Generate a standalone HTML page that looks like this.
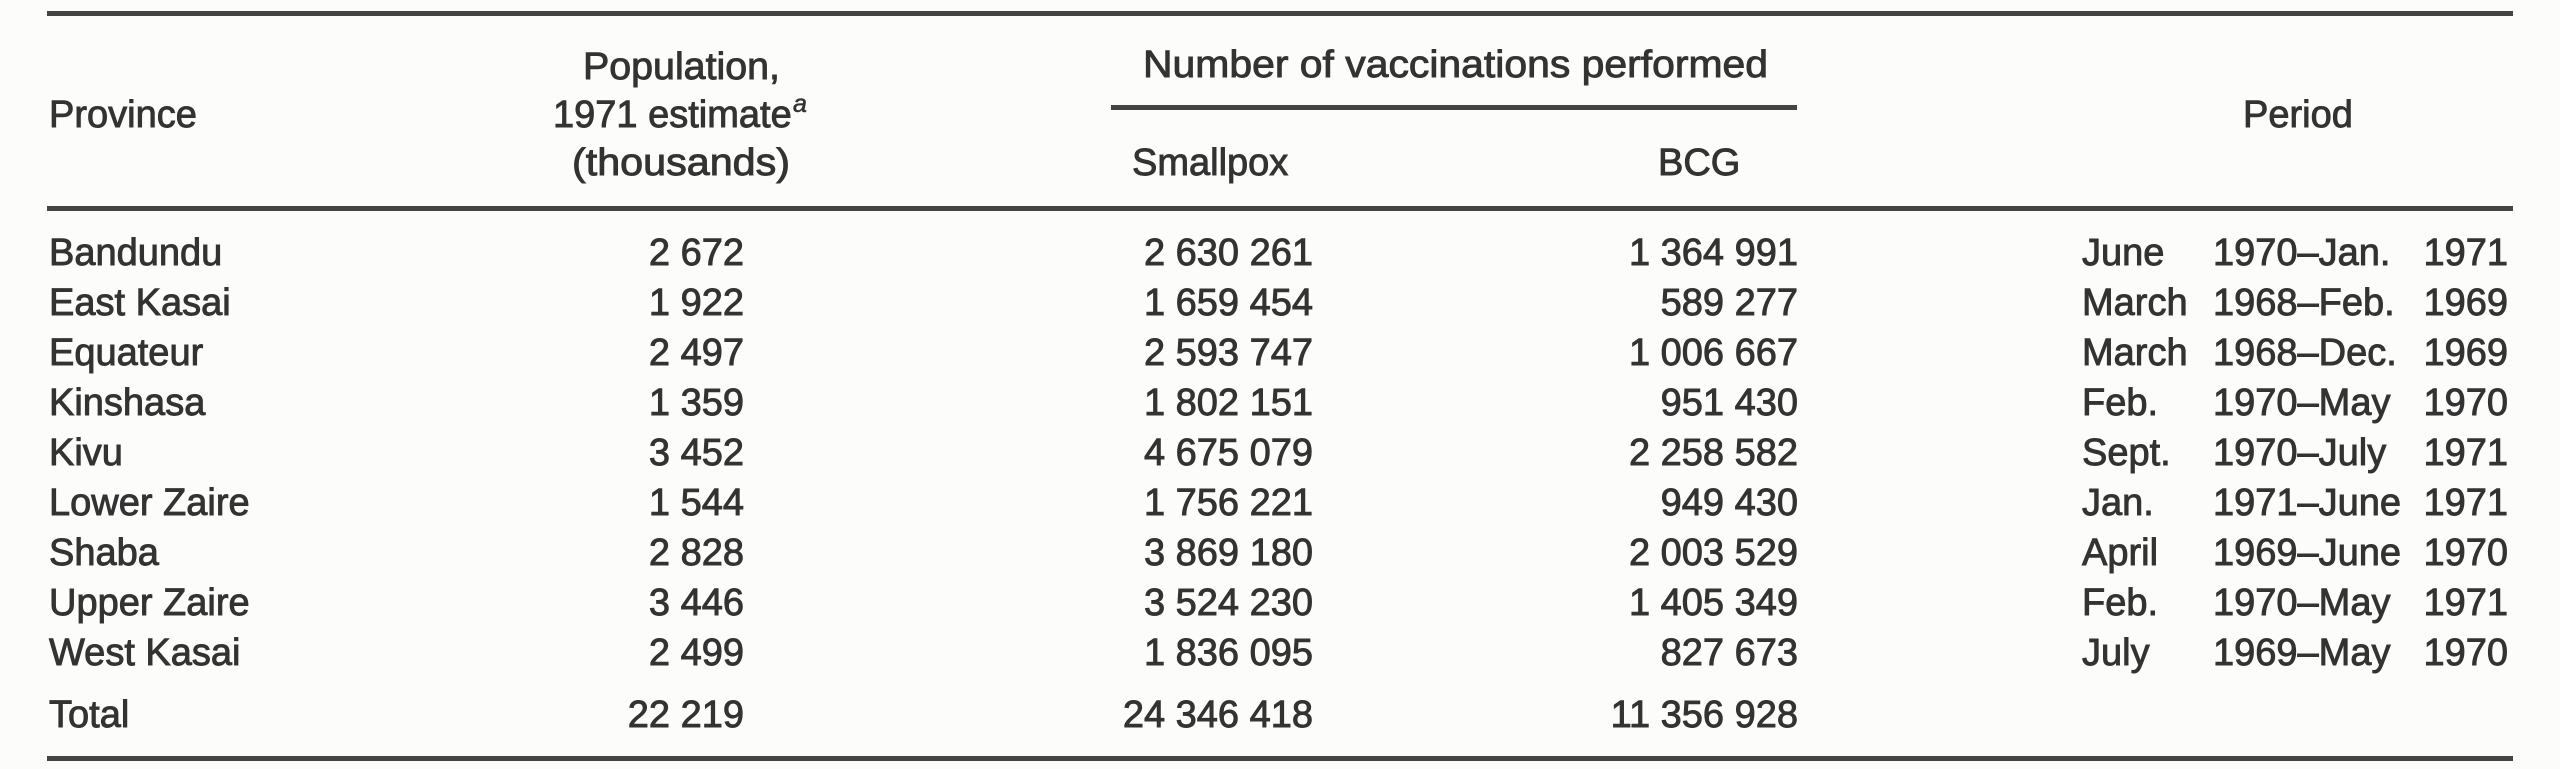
<!DOCTYPE html>
<html>
<head>
<meta charset="utf-8">
<style>
  html, body { margin: 0; padding: 0; background: #fcfcfa; }
  svg { display: block; }
  text { font-family: "Liberation Sans", Arial, sans-serif; font-size: 38px; fill: #333; stroke: #333; stroke-width: 0.9px; }
</style>
</head>
<body>
<svg width="2560" height="769" viewBox="0 0 2560 769" xmlns="http://www.w3.org/2000/svg">
  <rect x="0" y="0" width="2560" height="769" fill="#fcfcfa"/>
  <!-- rules -->
  <rect x="47" y="11" width="2466" height="5" fill="#444"/>
  <rect x="1111" y="105" width="686" height="5" fill="#444"/>
  <rect x="47" y="206" width="2466" height="5" fill="#444"/>
  <rect x="47" y="756" width="2466" height="5" fill="#444"/>

  <!-- headers -->
  <text x="49" y="127">Province</text>
  <text x="583" y="79" textLength="197" lengthAdjust="spacingAndGlyphs">Population,</text>
  <text x="553" y="127">1971 estimate</text>
  <text x="793" y="112" style="font-size:25px;font-style:italic;stroke-width:0.6px;">a</text>
  <text x="572" y="175" textLength="218" lengthAdjust="spacingAndGlyphs">(thousands)</text>
  <text x="1143" y="77" textLength="625" lengthAdjust="spacingAndGlyphs">Number of vaccinations performed</text>
  <text x="1132" y="175">Smallpox</text>
  <text x="1658" y="175">BCG</text>
  <text x="2243" y="127">Period</text>

  <!-- Province column -->
  <g>
    <text x="49" y="265">Bandundu</text>
    <text x="49" y="315">East Kasai</text>
    <text x="49" y="365">Equateur</text>
    <text x="49" y="415">Kinshasa</text>
    <text x="49" y="465">Kivu</text>
    <text x="49" y="515">Lower Zaire</text>
    <text x="49" y="565">Shaba</text>
    <text x="49" y="615">Upper Zaire</text>
    <text x="49" y="665">West Kasai</text>
    <text x="49" y="727">Total</text>
  </g>

  <!-- Population column -->
  <g text-anchor="end">
    <text x="744" y="265">2 672</text>
    <text x="744" y="315">1 922</text>
    <text x="744" y="365">2 497</text>
    <text x="744" y="415">1 359</text>
    <text x="744" y="465">3 452</text>
    <text x="744" y="515">1 544</text>
    <text x="744" y="565">2 828</text>
    <text x="744" y="615">3 446</text>
    <text x="744" y="665">2 499</text>
    <text x="744" y="727">22 219</text>
  </g>

  <!-- Smallpox column -->
  <g text-anchor="end">
    <text x="1313" y="265">2 630 261</text>
    <text x="1313" y="315">1 659 454</text>
    <text x="1313" y="365">2 593 747</text>
    <text x="1313" y="415">1 802 151</text>
    <text x="1313" y="465">4 675 079</text>
    <text x="1313" y="515">1 756 221</text>
    <text x="1313" y="565">3 869 180</text>
    <text x="1313" y="615">3 524 230</text>
    <text x="1313" y="665">1 836 095</text>
    <text x="1313" y="727">24 346 418</text>
  </g>

  <!-- BCG column -->
  <g text-anchor="end">
    <text x="1798" y="265">1 364 991</text>
    <text x="1798" y="315">589 277</text>
    <text x="1798" y="365">1 006 667</text>
    <text x="1798" y="415">951 430</text>
    <text x="1798" y="465">2 258 582</text>
    <text x="1798" y="515">949 430</text>
    <text x="1798" y="565">2 003 529</text>
    <text x="1798" y="615">1 405 349</text>
    <text x="1798" y="665">827 673</text>
    <text x="1798" y="727">11 356 928</text>
  </g>

  <!-- Period: month -->
  <g>
    <text x="2082" y="265">June</text>
    <text x="2082" y="315">March</text>
    <text x="2082" y="365">March</text>
    <text x="2082" y="415">Feb.</text>
    <text x="2082" y="465">Sept.</text>
    <text x="2082" y="515">Jan.</text>
    <text x="2082" y="565">April</text>
    <text x="2082" y="615">Feb.</text>
    <text x="2082" y="665">July</text>
  </g>
  <!-- Period: year range -->
  <g>
    <text x="2213" y="265">1970–Jan.</text>
    <text x="2213" y="315">1968–Feb.</text>
    <text x="2213" y="365">1968–Dec.</text>
    <text x="2213" y="415">1970–May</text>
    <text x="2213" y="465">1970–July</text>
    <text x="2213" y="515">1971–June</text>
    <text x="2213" y="565">1969–June</text>
    <text x="2213" y="615">1970–May</text>
    <text x="2213" y="665">1969–May</text>
  </g>
  <!-- Period: end year -->
  <g text-anchor="end">
    <text x="2508" y="265">1971</text>
    <text x="2508" y="315">1969</text>
    <text x="2508" y="365">1969</text>
    <text x="2508" y="415">1970</text>
    <text x="2508" y="465">1971</text>
    <text x="2508" y="515">1971</text>
    <text x="2508" y="565">1970</text>
    <text x="2508" y="615">1971</text>
    <text x="2508" y="665">1970</text>
  </g>
</svg>
</body>
</html>
